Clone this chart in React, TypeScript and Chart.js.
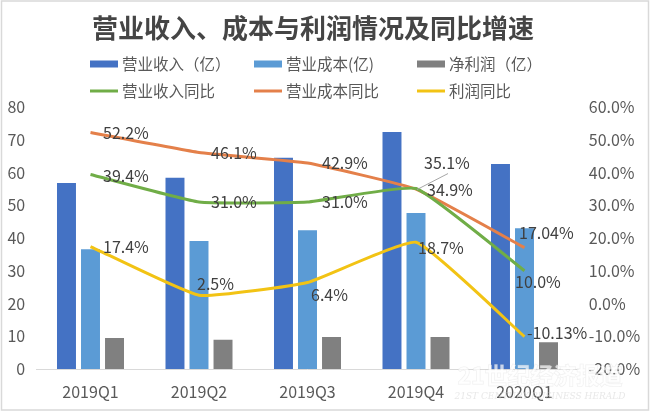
import React, { useEffect, useRef } from "react";
import { Chart, registerables } from "chart.js";

Chart.register(...registerables);

const categories = ["2019Q1", "2019Q2", "2019Q3", "2019Q4", "2020Q1"];
const revenue = [56.8, 58.4, 64.5, 72.4, 62.6];
const cost = [36.6, 39.1, 42.4, 47.6, 43.0];
const profit = [9.5, 8.9, 9.8, 9.8, 8.2];
const revenueYoY = [39.4, 31.0, 31.0, 35.1, 10.0];
const costYoY = [52.2, 46.1, 42.9, 34.9, 17.04];
const profitYoY = [17.4, 2.5, 6.4, 18.7, -10.13];
const leftTicks = { min: 0, max: 80, step: 10 };
const rightTicks = { min: -20, max: 60, step: 10 };

const TITLE = "营业收入、成本与利润情况及同比增速";
const FONT = "'Noto Sans CJK SC', 'Noto Sans', sans-serif";

// label offsets (dx to left edge, dy to middle) per line dataset index
const labelOffsets: Record<number, [number, number][]> = {
  3: [[12.5, 1], [12, 0], [14.5, 0], [8, -26], [-9.5, 11]],
  4: [[12.5, 0], [12, 0], [14.5, 0], [11, 1], [-5.5, -15]],
  5: [[12.5, 0], [-2, -11], [3.5, 12.5], [2, 6], [2.5, -4]],
};

const fmtPct = (v: number) =>
  (Math.abs(v * 10 - Math.round(v * 10)) < 1e-9 ? v.toFixed(1) : v.toFixed(2)) + "%";

const customDraw = {
  id: "customDraw",
  afterDatasetsDraw(chart: any) {
    const ctx = chart.ctx;
    ctx.save();
    ctx.font = `16px ${FONT}`;
    ctx.fillStyle = "#404040";
    ctx.textAlign = "left";
    ctx.textBaseline = "middle";
    [3, 4, 5].forEach((di) => {
      const meta = chart.getDatasetMeta(di);
      const ds = chart.data.datasets[di];
      meta.data.forEach((pt: any, i: number) => {
        const [dx, dy] = labelOffsets[di][i];
        ctx.fillText(fmtPct(ds.data[i] as number), pt.x + dx, pt.y + dy);
      });
    });
    const p = chart.getDatasetMeta(3).data[3];
    ctx.strokeStyle = "#a6a6a6";
    ctx.lineWidth = 1;
    ctx.beginPath();
    ctx.moveTo(p.x + 1, p.y + 1);
    ctx.lineTo(p.x + 32, p.y - 15);
    ctx.stroke();
    ctx.restore();
  },
  afterDraw(chart: any) {
    const ctx = chart.ctx;
    ctx.save();
    ctx.font = `bold 26px ${FONT}`;
    ctx.fillStyle = "#454545";
    ctx.textAlign = "center";
    ctx.textBaseline = "middle";
    ctx.fillText(TITLE, 313, 28);
    const cols = [90, 254, 417];
    ctx.font = `15.5px ${FONT}`;
    ctx.textAlign = "left";
    chart.data.datasets.forEach((ds: any, i: number) => {
      const row = i < 3 ? 0 : 1;
      const x = cols[i % 3];
      const y = row === 0 ? 64 : 91;
      if (row === 0) {
        ctx.fillStyle = ds.backgroundColor;
        ctx.fillRect(x, y - 3.5, 28, 7);
      } else {
        ctx.strokeStyle = ds.borderColor;
        ctx.lineWidth = 3;
        ctx.beginPath();
        ctx.moveTo(x, y);
        ctx.lineTo(x + 28, y);
        ctx.stroke();
      }
      ctx.fillStyle = "#595959";
      ctx.fillText(ds.label, x + 32, y);
    });
    ctx.textAlign = "center";
    ctx.font = `bold 23px ${FONT}`;
    ctx.fillStyle = "rgba(255,255,255,0.7)";
    ctx.strokeStyle = "rgba(200,200,200,0.3)";
    ctx.lineWidth = 1;
    ctx.strokeText("21世纪经济报道", 540, 375);
    ctx.fillText("21世纪经济报道", 540, 375);
    ctx.font = `italic 9px 'DejaVu Serif', serif`;
    ctx.fillStyle = "rgba(210,210,210,0.5)";
    ctx.fillText("21ST CENTURY BUSINESS HERALD", 540, 397);
    ctx.strokeStyle = "#d9d9d9";
    ctx.lineWidth = 1.5;
    ctx.strokeRect(1.5, 1, 647, 409);
    ctx.restore();
  },
};

export default function App() {
  const ref = useRef<HTMLCanvasElement>(null);
  useEffect(() => {
    document.body.style.margin = "0";
    const canvas = ref.current!;
    const tickFont = { family: FONT, size: 16 };
    const lineBase = { borderWidth: 3, pointRadius: 0, tension: 0.12, yAxisID: "y1", order: 1 };
    const chart = new Chart(canvas, {
      type: "bar",
      data: {
        labels: categories,
        datasets: [
          { type: "bar", label: "营业收入（亿）", data: revenue, backgroundColor: "#4472C4", yAxisID: "y", order: 2 },
          { type: "bar", label: "营业成本(亿)", data: cost, backgroundColor: "#5B9BD5", yAxisID: "y", order: 2 },
          { type: "bar", label: "净利润（亿）", data: profit, backgroundColor: "#808080", yAxisID: "y", order: 2 },
          { ...lineBase, type: "line", label: "营业收入同比", data: revenueYoY, borderColor: "#70AD47", backgroundColor: "#70AD47" },
          { ...lineBase, type: "line", label: "营业成本同比", data: costYoY, borderColor: "#E4804A", backgroundColor: "#E4804A" },
          { ...lineBase, type: "line", label: "利润同比", data: profitYoY, borderColor: "#F2C314", backgroundColor: "#F2C314" },
        ] as any,
      },
      options: {
        responsive: false,
        animation: false,
        devicePixelRatio: 1,
        layout: { padding: { top: 107, left: 0, right: 0, bottom: 0 } },
        datasets: { bar: { categoryPercentage: 0.664, barPercentage: 0.79 } } as any,
        plugins: { legend: { display: false }, title: { display: false }, tooltip: { enabled: false } },
        scales: {
          x: {
            grid: { display: false },
            border: { display: true, color: "#d9d9d9", width: 1 },
            ticks: { font: tickFont, color: "#595959", padding: 5 },
            afterFit: (s: any) => { s.height = 43; },
          },
          y: {
            position: "left",
            min: leftTicks.min,
            max: leftTicks.max,
            grid: { display: false, drawTicks: false },
            border: { display: false },
            ticks: { stepSize: leftTicks.step, font: tickFont, color: "#595959", padding: 11 },
            afterFit: (s: any) => { s.width = 36.25; },
          },
          y1: {
            position: "right",
            min: rightTicks.min,
            max: rightTicks.max,
            grid: { display: false, drawTicks: false },
            border: { display: false },
            ticks: {
              stepSize: rightTicks.step,
              font: tickFont,
              color: "#595959",
              padding: 10,
              callback: (v: any) => Number(v).toFixed(1) + "%",
            },
            afterFit: (s: any) => { s.width = 72.25; },
          },
        },
      },
      plugins: [customDraw],
    });
    return () => chart.destroy();
  }, []);
  return (
    <div style={{ position: "absolute", left: 0, top: 0, width: 651, height: 412, background: "#fff" }}>
      <canvas ref={ref} width={651} height={412} style={{ width: 651, height: 412 }} />
    </div>
  );
}
